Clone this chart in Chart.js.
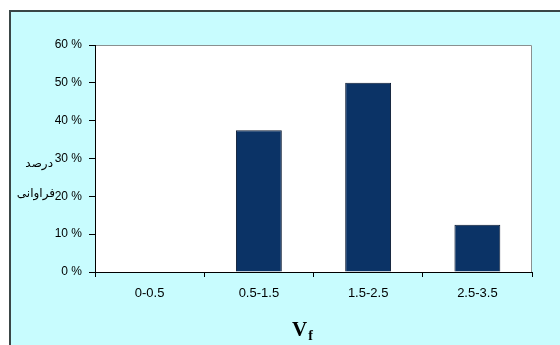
<!DOCTYPE html>
<html>
<head>
<meta charset="utf-8">
<script src="https://cdn.jsdelivr.net/npm/chart.js@4"></script>
<style>
  html, body { margin: 0; padding: 0; background: #ffffff; }
  #wrap { width: 560px; height: 345px; position: relative; }
</style>
</head>
<body>
<div id="wrap"><canvas id="c" width="560" height="345"></canvas></div>
<script>
const categories = ['0-0.5', '0.5-1.5', '1.5-2.5', '2.5-3.5'];
const frequencyPercent = [0, 37.5, 50, 12.5];
const yTitleLines = ['درصد', 'فراوانی'];
const xTitleMain = 'V';
const xTitleSub = 'f';

const bgPlugin = {
  id: 'bgPlugin',
  beforeDraw(chart) {
    const ctx = chart.ctx;
    const a = chart.chartArea;
    ctx.save();
    ctx.fillStyle = '#ffffff';
    ctx.fillRect(0, 0, chart.width, chart.height);
    ctx.fillStyle = '#c8fcfe';
    ctx.fillRect(10, 11, chart.width - 10, chart.height - 11);
    ctx.strokeStyle = '#3a4646';
    ctx.lineWidth = 2;
    ctx.beginPath();
    ctx.moveTo(10, chart.height);
    ctx.lineTo(10, 11);
    ctx.lineTo(chart.width, 11);
    ctx.stroke();
    ctx.fillStyle = '#ffffff';
    ctx.fillRect(a.left, a.top, a.right - a.left, a.bottom - a.top);
    ctx.strokeStyle = '#8a9090';
    ctx.lineWidth = 1;
    ctx.beginPath();
    ctx.moveTo(a.left, a.top + 0.5);
    ctx.lineTo(a.right - 0.5, a.top + 0.5);
    ctx.lineTo(a.right - 0.5, a.bottom);
    ctx.stroke();
    ctx.restore();
  },
  afterDraw(chart) {
    const ctx = chart.ctx;
    ctx.save();
    ctx.fillStyle = '#000000';
    ctx.font = '12px "DejaVu Sans"';
    ctx.textAlign = 'right';
    ctx.textBaseline = 'middle';
    ctx.direction = 'rtl';
    ctx.fillText(yTitleLines[0], 53, 164);
    ctx.fillText(yTitleLines[1], 55, 194);
    ctx.direction = 'ltr';
    ctx.textAlign = 'left';
    ctx.textBaseline = 'alphabetic';
    ctx.font = 'bold 21px "Liberation Serif"';
    ctx.fillText(xTitleMain, 292, 336);
    const w = ctx.measureText(xTitleMain).width;
    ctx.font = 'bold 14px "Liberation Serif"';
    ctx.fillText(xTitleSub, 292 + w + 1, 340);
    ctx.restore();
  }
};

new Chart(document.getElementById('c'), {
  type: 'bar',
  data: {
    labels: categories,
    datasets: [{
      data: frequencyPercent,
      backgroundColor: '#0b3366',
      borderColor: '#0a1a33',
      borderWidth: 1,
      categoryPercentage: 1,
      barPercentage: 0.42
    }]
  },
  options: {
    responsive: false,
    animation: false,
    devicePixelRatio: 1,
    layout: { padding: { left: 0, right: 28, top: 45, bottom: 0 } },
    plugins: {
      legend: { display: false },
      tooltip: { enabled: false },
      title: { display: false }
    },
    scales: {
      x: {
        offset: true,
        grid: { offset: true, drawOnChartArea: false, drawTicks: true, tickLength: 5, tickColor: '#000000' },
        border: { display: true, color: '#000000', width: 1 },
        ticks: { color: '#000000', font: { family: '"Liberation Sans", Arial', size: 13 }, padding: 9, maxRotation: 0 },
        afterFit(s) { s.height = 73; }
      },
      y: {
        min: 0, max: 60,
        grid: { drawOnChartArea: false, drawTicks: true, tickLength: 6, tickColor: '#000000' },
        border: { display: true, color: '#000000', width: 1 },
        ticks: {
          stepSize: 10,
          color: '#000000',
          font: { family: '"Liberation Sans", Arial', size: 12 },
          padding: 7,
          callback: (v) => v + ' %'
        },
        afterFit(s) { s.width = 95; }
      }
    }
  },
  plugins: [bgPlugin]
});
</script>
</body>
</html>
